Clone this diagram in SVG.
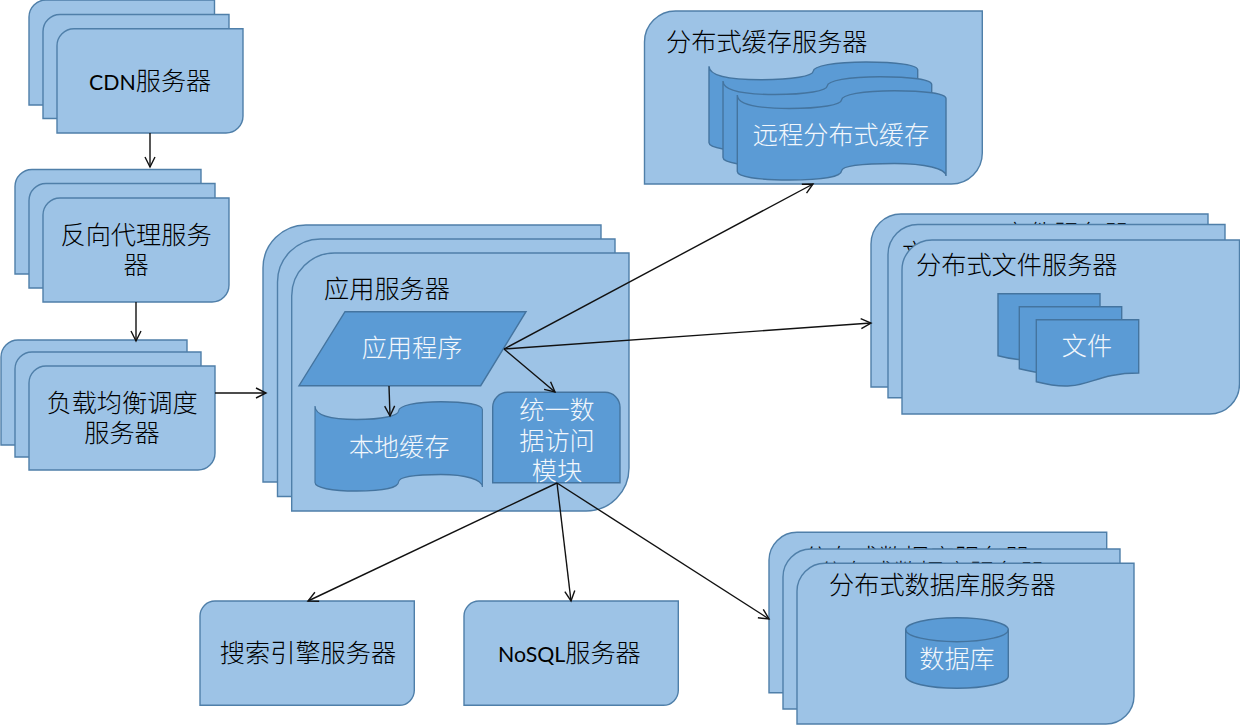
<svg xmlns="http://www.w3.org/2000/svg" width="1240" height="725" viewBox="0 0 1240 725">
<style>
.l{fill:#9dc3e6;stroke:#4f7fa9;stroke-width:1.4}
.d{fill:#5b9bd5;stroke:#44749f;stroke-width:1.4}
text{font-family:"Noto Sans CJK SC","Noto Sans",sans-serif;font-size:25.2px;font-weight:300;fill:#000}
.w{fill:#f2f7fc}
.m{text-anchor:middle}
.la{font-family:Lato,sans-serif;font-size:21.3px;font-weight:400}
.c line{stroke:#111;stroke-width:1.4;marker-end:url(#a)}
</style>
<defs>
<marker id="a" markerUnits="userSpaceOnUse" markerWidth="14" markerHeight="14" refX="11" refY="6" orient="auto" overflow="visible"><path d="M1,1 L11,6 L1,11" fill="none" stroke="#111" stroke-width="1.4"/></marker>
<path id="tape" d="M0,4.300 C0,14 20,17.800 52,17.800 C84,17.800 104,14 104.200,9.300 C104.500,4 125,0 157,0 C188,0 208.700,3 208.700,7.800 V85.300 C208.700,78 188,72.800 157,72.800 C125,72.800 104.500,75 104.200,80.300 C104,86 84,89.300 52,89.300 C20,89.300 0,86 0,80.800 Z"/>
</defs>
<rect width="1240" height="725" fill="#fff"/>
<g id="cdn">
<path class="l" d="M29,17 A17,17 0 0 1 46,0 H214.500 V105 H29 Z"/>
<path class="l" d="M43,31.500 A17,17 0 0 1 60,14.500 H229 V118.500 H43 Z"/>
<path class="l" d="M57,45.700 A17,17 0 0 1 74,28.700 H243 V116 A17,17 0 0 1 226,133 H57 Z"/>
<text x="89" y="90"><tspan class="la">CDN</tspan>服务器</text>
</g>
<g id="proxy">
<path class="l" d="M15,186.500 A17,17 0 0 1 32,169.500 H201 V274 H15 Z"/>
<path class="l" d="M29,200.500 A17,17 0 0 1 46,183.500 H215 V288 H29 Z"/>
<path class="l" d="M43,215 A17,17 0 0 1 60,198 H229 V285 A17,17 0 0 1 212,302 H43 Z"/>
<text class="m" x="136" y="244">反向代理服务</text>
<text class="m" x="136" y="274">器</text>
</g>
<g id="lb">
<path class="l" d="M1,357 A17,17 0 0 1 18,340 H187 V445 H1 Z"/>
<path class="l" d="M15,369 A17,17 0 0 1 32,352 H201 V457 H15 Z"/>
<path class="l" d="M29,383 A17,17 0 0 1 46,366 H215 V453 A17,17 0 0 1 198,470 H29 Z"/>
<text class="m" x="122" y="412">负载均衡调度</text>
<text class="m" x="122" y="442">服务器</text>
</g>
<g id="app">
<path class="l" d="M263,268 A43,43 0 0 1 306,225 H601 V482 H263 Z"/>
<path class="l" d="M277.500,282 A43,43 0 0 1 320.500,239 H615 V496.500 H277.500 Z"/>
<path class="l" d="M291.700,296 A43,43 0 0 1 334.700,253 H629 V468 A43,43 0 0 1 586,511 H291.700 Z"/>
<text x="324" y="298">应用服务器</text>
<path class="d" d="M345,311.700 H526 L480.700,385.700 H299 Z"/>
<text class="w m" x="412" y="357">应用程序</text>
<use href="#tape" class="d" transform="translate(315,401.700) scale(.802,1)"/>
<text class="w m" x="399" y="456">本地缓存</text>
<path class="d" d="M492.700,407.300 A15,15 0 0 1 507.700,392.300 H605 A15,15 0 0 1 620,407.300 V482.700 H492.700 Z"/>
<text class="w m" x="557" y="419">统一数</text>
<text class="w m" x="557" y="450">据访问</text>
<text class="w m" x="557" y="480">模块</text>
</g>
<g id="cache">
<path class="l" d="M644.500,184 V42 A31,31 0 0 1 675.500,11 H982.300 V153 A31,31 0 0 1 951.300,184 Z"/>
<text x="666" y="51">分布式缓存服务器</text>
<use href="#tape" class="d" x="709" y="62"/>
<use href="#tape" class="d" x="723" y="76.700"/>
<use href="#tape" class="d" x="737.300" y="90.700"/>
<text class="w m" x="841" y="144">远程分布式缓存</text>
</g>
<g id="file">
<path class="l" d="M871,244 A30,30 0 0 1 901,214 H1208 V387 H871 Z"/>
<text x="1003" y="243">文件服务器</text>
<path class="l" d="M888,254.500 A30,30 0 0 1 918,224.500 H1225 V397.700 H888 Z"/>
<text x="902" y="262">文件服务器</text>
<path class="l" d="M902,270 A30,30 0 0 1 932,240 H1239.500 V384 A30,30 0 0 1 1209.500,414 H902 Z"/>
<text x="916" y="274">分布式文件服务器</text>
<path class="d" d="M998,293.700 H1100 V347 C1049,347 1049,369 998,355.700 Z"/>
<path class="d" d="M1019.300,306.700 H1121.700 V360 C1070.500,360 1070.500,382 1019.300,368.700 Z"/>
<path class="d" d="M1036.300,319.700 H1138.700 V373 C1087.500,373 1087.500,395 1036.300,381.700 Z"/>
<text class="w m" x="1087" y="355">文件</text>
</g>
<g id="db">
<path class="l" d="M769,560 A28,28 0 0 1 797,532.300 H1106.700 V692.700 H769 Z"/>
<text x="803" y="567">分布式数据库服务器</text>
<path class="l" d="M783,577 A28,28 0 0 1 811,549 H1120 V709 H783 Z"/>
<text x="818" y="582">分布式数据库服务器</text>
<path class="l" d="M797,591.300 A28,28 0 0 1 825,563.300 H1134 V696 A28,28 0 0 1 1106,724 H797 Z"/>
<text x="829" y="594">分布式数据库服务器</text>
<path class="d" d="M905.700,629.700 A51.300,12 0 0 1 1008.300,629.700 V676.300 A51.300,12 0 0 1 905.700,676.300 Z"/>
<path class="d" d="M905.700,629.700 A51.300,12 0 0 0 1008.300,629.700" style="fill:none"/>
<text class="w m" x="957" y="668">数据库</text>
</g>
<g id="search">
<path class="l" d="M200,616 A15,15 0 0 1 215,601 H414.300 V690.300 A15,15 0 0 1 399.300,705.300 H200 Z"/>
<text class="m" x="308" y="662">搜索引擎服务器</text>
</g>
<g id="nosql">
<path class="l" d="M464,616 A15,15 0 0 1 479,601 H678.300 V690.300 A15,15 0 0 1 663.300,705.300 H464 Z"/>
<text x="498" y="662"><tspan class="la">NoSQL</tspan>服务器</text>
</g>
<g id="connectors" class="c">
<line x1="150" y1="133" x2="150" y2="167"/>
<line x1="136" y1="302" x2="136" y2="341"/>
<line x1="215" y1="393" x2="266" y2="393"/>
<line x1="389" y1="386" x2="390" y2="416"/>
<line x1="504" y1="349" x2="813" y2="184"/>
<line x1="504" y1="349" x2="871" y2="323"/>
<line x1="504" y1="349" x2="555" y2="392"/>
<line x1="557" y1="483" x2="308" y2="601"/>
<line x1="557" y1="483" x2="571" y2="601"/>
<line x1="557" y1="483" x2="769" y2="619"/>
</g>
</svg>
